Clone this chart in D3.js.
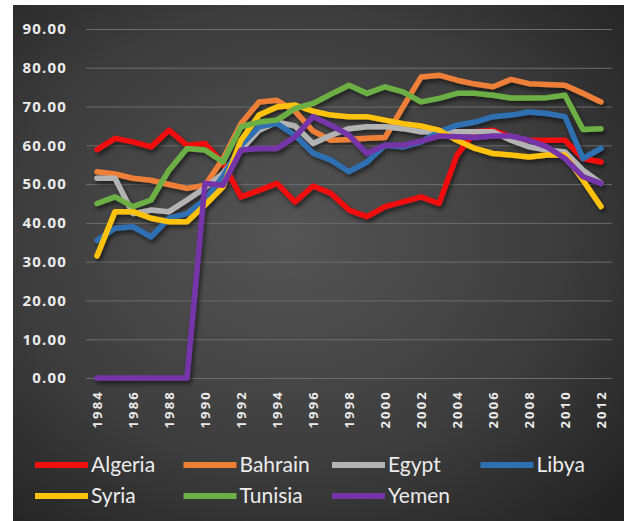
<!DOCTYPE html>
<html>
<head>
<meta charset="utf-8">
<script src="https://cdn.jsdelivr.net/npm/d3@7"></script>
<style>
  html, body { margin: 0; padding: 0; background: #ffffff; }
  svg { display: block; }
</style>
</head>
<body>
<svg id="chart" width="628" height="521"></svg>
<script>
// Years on the category axis and the labelled subset
const years = [1984, 1985, 1986, 1987, 1988, 1989, 1990, 1991, 1992, 1993, 1994, 1995, 1996, 1997,
               1998, 1999, 2000, 2001, 2002, 2003, 2004, 2005, 2006, 2007, 2008, 2009, 2010, 2011, 2012];
const yearLabels = [1984, 1986, 1988, 1990, 1992, 1994, 1996, 1998, 2000, 2002, 2004, 2006, 2008, 2010, 2012];
const valueTicks = [0, 10, 20, 30, 40, 50, 60, 70, 80, 90];

// Index values per country, one per year 1984-2012
const algeria = [58.9, 61.8, 60.9, 59.6, 63.9, 60.0, 60.5, 55.4, 46.7, 48.4, 50.2, 45.4, 49.5, 47.6, 43.3,
                 41.6, 44.2, 45.4, 46.7, 45.0, 57.5, 63.5, 63.9, 62.2, 61.3, 61.3, 61.3, 56.6, 55.7];
const bahrain = [53.2, 52.6, 51.5, 51.0, 49.9, 48.9, 49.7, 56.5, 65.6, 71.2, 71.6, 68.8, 63.7, 61.3, 61.5,
                 61.8, 62.0, 69.9, 77.6, 78.1, 76.8, 75.8, 75.1, 77.0, 75.9, 75.7, 75.5, 73.4, 71.2];
const egypt   = [51.5, 51.5, 42.4, 43.3, 42.9, 45.9, 49.0, 52.8, 58.8, 63.9, 66.0, 65.0, 60.5, 62.6, 64.3,
                 64.8, 64.8, 64.3, 63.5, 63.5, 63.5, 63.5, 63.5, 61.3, 59.6, 58.8, 58.3, 53.6, 50.2];
const libya   = [35.5, 38.6, 39.0, 36.4, 41.2, 42.4, 46.0, 52.0, 60.0, 64.8, 65.6, 62.6, 58.0, 56.2, 53.2,
                 55.7, 60.0, 59.6, 60.9, 63.5, 65.2, 66.0, 67.4, 67.8, 68.6, 68.2, 67.4, 56.6, 59.2];
const syria   = [31.5, 42.9, 42.9, 41.2, 40.3, 40.3, 44.6, 49.3, 61.3, 67.8, 69.9, 70.4, 68.8, 67.8, 67.4,
                 67.4, 66.5, 65.6, 65.0, 63.9, 61.3, 59.2, 57.9, 57.5, 57.0, 57.5, 57.5, 51.0, 44.2];
const tunisia = [45.0, 46.7, 44.2, 45.9, 53.6, 59.2, 58.8, 55.7, 64.8, 66.0, 66.5, 69.5, 70.8, 73.2, 75.5,
                 73.4, 75.1, 73.8, 71.2, 72.1, 73.4, 73.4, 72.9, 72.2, 72.2, 72.3, 72.9, 64.1, 64.3];
const yemen   = [0, 0, 0, 0, 0, 0, 50.2, 49.7, 58.8, 59.2, 59.2, 62.2, 67.4, 65.2, 62.6,
                 57.9, 60.0, 60.0, 61.1, 62.4, 62.2, 62.0, 62.4, 62.4, 61.3, 59.6, 56.6, 51.9, 50.2];

const countries = ["Algeria", "Bahrain", "Egypt", "Libya", "Syria", "Tunisia", "Yemen"];
const seriesValues = [algeria, bahrain, egypt, libya, syria, tunisia, yemen];
const colors = ["#f01010", "#ee7f37", "#b3b3b3", "#2f70b2", "#ffc20e", "#6cb045", "#7434a8"];

const svg = d3.select("#chart");
const W = 628, H = 521;

// Dark panel with a soft radial glow
const defs = svg.append("defs");
const grad = defs.append("radialGradient")
  .attr("id", "panelGlow")
  .attr("cx", "45%").attr("cy", "45%").attr("r", "75%");
grad.append("stop").attr("offset", "0%").attr("stop-color", "#555555");
grad.append("stop").attr("offset", "60%").attr("stop-color", "#3c3c3c");
grad.append("stop").attr("offset", "100%").attr("stop-color", "#222222");

const shadow = defs.append("filter")
  .attr("id", "lineShadow")
  .attr("x", "-10%").attr("y", "-10%").attr("width", "120%").attr("height", "130%");
shadow.append("feDropShadow")
  .attr("dx", 2).attr("dy", 3).attr("stdDeviation", 2)
  .attr("flood-color", "#000000").attr("flood-opacity", 0.55);

svg.append("rect")
  .attr("x", 13).attr("y", 5)
  .attr("width", 611).attr("height", H - 5)
  .attr("fill", "url(#panelGlow)");

// Scales
const plotLeft = 86, plotRight = 612;
const x = d3.scalePoint().domain(years).range([97, 601]);
const y = d3.scaleLinear().domain([0, 90]).range([378, 29]);

// Value axis with gridlines
const yAxis = svg.append("g")
  .attr("transform", `translate(${plotLeft},0)`)
  .call(d3.axisLeft(y)
    .tickValues(valueTicks)
    .tickFormat(d3.format(".2f"))
    .tickSizeInner(-(plotRight - plotLeft))
    .tickSizeOuter(0)
    .tickPadding(19));
yAxis.select(".domain").remove();
yAxis.selectAll(".tick line")
  .attr("stroke", "#6c6c6c")
  .attr("stroke-width", 1);
yAxis.selectAll(".tick text")
  .attr("fill", "#ececec")
  .style("font-family", "'Open Sans', 'DejaVu Sans', sans-serif")
  .style("font-weight", "700")
  .style("font-size", "15px")
  .style("letter-spacing", "1.2px");

// Year axis with vertical labels
const xAxis = svg.append("g")
  .attr("transform", `translate(0,${y(0)})`)
  .call(d3.axisBottom(x).tickValues(yearLabels).tickSize(0));
xAxis.select(".domain").remove();
xAxis.selectAll(".tick text")
  .attr("transform", "rotate(-90)")
  .attr("x", -12)
  .attr("y", 0)
  .attr("dy", "0.36em")
  .attr("text-anchor", "end")
  .attr("fill", "#ececec")
  .style("font-family", "'Open Sans', 'DejaVu Sans', sans-serif")
  .style("font-weight", "700")
  .style("font-size", "13px")
  .style("letter-spacing", "2.2px");

// Series lines
const line = d3.line()
  .x((d, i) => x(years[i]))
  .y(d => y(d));

svg.append("g")
  .attr("filter", "url(#lineShadow)")
  .selectAll("path")
  .data(seriesValues)
  .join("path")
  .attr("d", line)
  .attr("fill", "none")
  .attr("stroke", (d, i) => colors[i])
  .attr("stroke-width", 5.5)
  .attr("stroke-linejoin", "round")
  .attr("stroke-linecap", "round");

// Legend: four items per row
const legend = svg.append("g");
const items = legend.selectAll("g")
  .data(countries)
  .join("g")
  .attr("transform", (d, i) => `translate(${35 + (i % 4) * 148.5},${465 + Math.floor(i / 4) * 31})`);
items.append("line")
  .attr("x1", 0).attr("x2", 53)
  .attr("y1", 0).attr("y2", 0)
  .attr("stroke", (d, i) => colors[i])
  .attr("stroke-width", 6);
items.append("text")
  .attr("x", 56)
  .attr("y", 7)
  .attr("fill", "#ececec")
  .style("font-family", "Lato, 'Open Sans', sans-serif")
  .style("font-size", "21px")
  .text(d => d);
</script>
</body>
</html>
